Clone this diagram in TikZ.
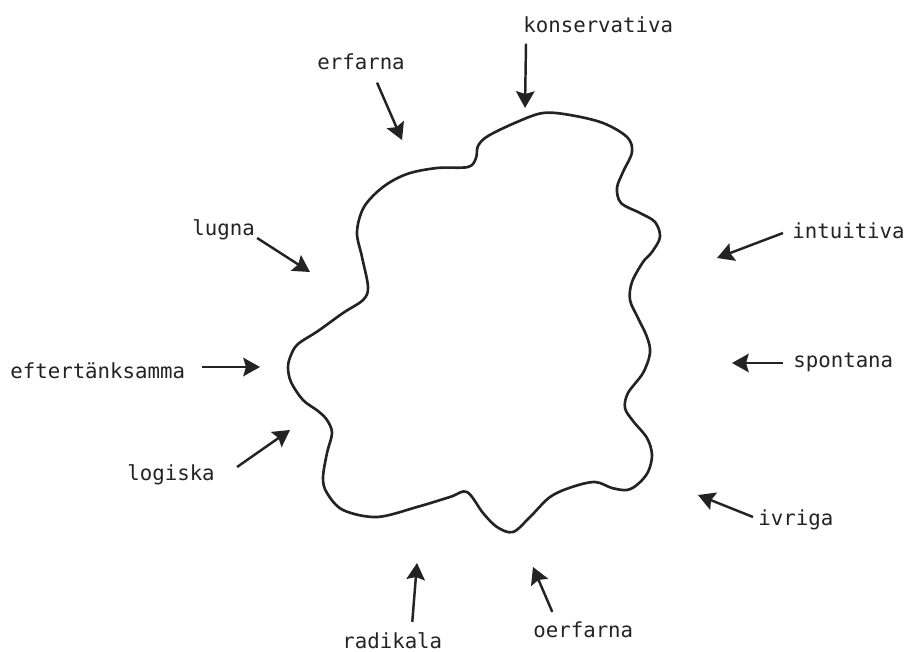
\documentclass[tikz,border=0pt]{standalone}
\usepackage{fontspec}
\setmonofont{DejaVu Sans Mono}
\usepackage{tikz}
\usetikzlibrary{arrows.meta}
\definecolor{ink}{RGB}{35,35,35}
\tikzset{
  lbl/.style  ={inner sep=0pt, font=\ttfamily\fontsize{11.8}{14}\selectfont, text=ink},
  ar/.style   ={-{Stealth[length=9.5pt, width=10.5pt, inset=1.5pt]}, draw=ink, line width=1.4pt},
  blob/.style ={draw=ink, line width=1.5pt, line join=round}
}

\begin{document}
\begin{tikzpicture}[x=0.02cm, y=-0.02cm]
\useasboundingbox (0,0) rectangle (906,652);
\node[lbl, anchor=base west] (kons)    at (523,33)  {konservativa};
\node[lbl, anchor=base west] (erf)     at (317,70)  {erfarna};
\node[lbl, anchor=base west] (lugna)   at (192,235) {lugna};
\node[lbl, anchor=base west] (eft)     at (10,378)  {eftertänksamma};
\node[lbl, anchor=base west] (logiska) at (127,480) {logiska};
\node[lbl, anchor=base west] (intu)    at (792,238) {intuitiva};
\node[lbl, anchor=base west] (spont)   at (793,367) {spontana};
\node[lbl, anchor=base west] (ivriga)  at (758,525) {ivriga};
\node[lbl, anchor=base west] (radik)   at (342,648) {radikala};
\node[lbl, anchor=base west] (oerf)    at (533,637) {oerfarna};

\coordinate (tKons) at (525,108);
\coordinate (tErf)  at (402,140);
\coordinate (tLug)  at (310,272);
\coordinate (tEft)  at (260,367);
\coordinate (tLog)  at (290,430);
\coordinate (tInt)  at (717,258);
\coordinate (tSpo)  at (732,363);
\coordinate (tIvr)  at (698,495);
\coordinate (tRad)  at (417,563);
\coordinate (tOer)  at (533,567);

\draw[ar] ([shift={(3,10)}]kons.south west) -- (tKons);
\draw[ar] ([shift={(16,12)}]erf.south) -- (tErf);
\draw[ar] ([shift={(2,3)}]lugna.base east) -- (tLug);
\draw[ar] ([shift={(17,-11)}]eft.base east) -- (tEft);
\draw[ar] ([shift={(22,-13)}]logiska.base east) -- (tLog);
\draw[ar] ([shift={(-9,-5)}]intu.base west) -- (tInt);
\draw[ar] ([shift={(-10,-4)}]spont.base west) -- (tSpo);
\draw[ar] ([shift={(-5,-8)}]ivriga.base west) -- (tIvr);
\draw[ar] ([shift={(20,-10)}]radik.north) -- (tRad);
\draw[ar] ([shift={(-31,-9)}]oerf.north) -- (tOer);

\draw[blob] plot[smooth cycle, tension=0.55] coordinates {
  (357,232) (364,207) (383,187) (407,174) (437,168) (468,167) (476,158)
  (478,146) (488,136) (517,122) (543,113) (570,115) (603,123) (627,137)
  (632,152) (623,172) (617,188) (621,203) (640,213) (655,222) (660,237)
  (652,252) (643,262) (632,282) (630,300) (638,318) (647,337) (650,353)
  (643,373) (628,393) (625,408) (633,421) (647,438) (652,455) (648,472)
  (638,484) (627,490) (612,488) (595,482) (572,487) (550,497) (530,517)
  (513,532) (497,527) (483,513) (467,492) (450,497) (417,507) (377,517)
  (343,510) (327,493) (323,478) (327,453) (332,433) (327,420) (318,411)
  (303,400) (291,382) (288,367) (291,355) (298,344) (318,331) (343,313)
  (363,300) (368,287) (362,257)};
\end{tikzpicture}
\end{document}
